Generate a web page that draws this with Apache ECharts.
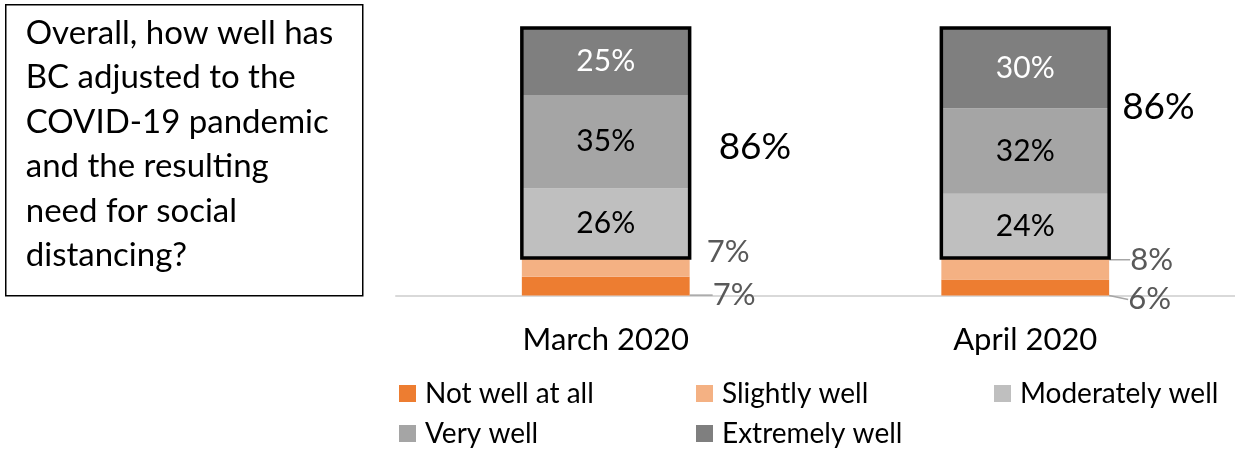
<!DOCTYPE html>
<html>
<head>
<meta charset="utf-8">
<script src="https://cdn.jsdelivr.net/npm/echarts@6/dist/echarts.min.js"></script>
<style>
  html, body { margin: 0; padding: 0; background: #fff; }
  #chart { width: 1235px; height: 452px; }
</style>
</head>
<body>
<div id="chart"></div>
<script>
// Survey waves
const periods = ['March 2020', 'April 2020'];

// Share of respondents (%) for each answer, per wave
const notWellAtAll   = [7, 6];
const slightlyWell   = [7, 8];
const moderatelyWell = [26, 24];
const veryWell       = [35, 32];
const extremelyWell  = [25, 30];

const seriesNames = ['Not well at all', 'Slightly well', 'Moderately well', 'Very well', 'Extremely well'];
const question = 'Overall, how well has\nBC adjusted to the\nCOVID-19 pandemic\nand the resulting\nneed for social\ndistancing?';

const FONT = 'Lato';
const colors = ['#ED7D31', '#F4B183', '#BFBFBF', '#A5A5A5', '#7F7F7F'];

// Offsets of the small outside labels: [distance from bar, dy, leader line shown] per wave
const notWellLabelPos  = [[23, 9, true], [19, 12, true]];
const slightlyLabelPos = [[17, -15, false], [21, -9, true]];
// Placement of the combined "well adjusted" total beside each outlined block
const totalLabelOffset = [[29, 119], [13, 79]];

// Outlined block = Moderately + Very + Extremely
const outlineData = periods.map((p, i) => {
  const base = notWellAtAll[i] + slightlyWell[i];
  const top = base + moderatelyWell[i] + veryWell[i] + extremelyWell[i];
  return [i, base, top];
});

const chart = echarts.init(document.getElementById('chart'), null, { renderer: 'canvas' });

function smallLabelSeries(name, values, color, pos) {
  return {
    name, type: 'bar', stack: 'total', barWidth: '40%',
    data: values.map((v, i) => ({ value: v, labelLine: { show: pos[i][2] } })),
    itemStyle: { color },
    label: {
      show: true, position: 'right', color: '#595959',
      fontFamily: FONT, fontSize: 31,
      formatter: p => p.value + '%'
    },
    labelLayout: p => ({ dx: pos[p.dataIndex][0] - 5, dy: pos[p.dataIndex][1] }),
    labelLine: { show: true, lineStyle: { color: '#A6A6A6', width: 1.5 } }
  };
}

function innerSeries(name, data, color, textColor) {
  return {
    name, type: 'bar', stack: 'total', barWidth: '40%',
    data,
    itemStyle: { color },
    label: {
      show: true, position: 'inside', color: textColor,
      fontFamily: FONT, fontSize: 30,
      formatter: p => p.value + '%'
    }
  };
}

const legendBase = {
  orient: 'vertical', icon: 'rect', itemWidth: 17, itemHeight: 17,
  itemGap: 10, padding: 0,
  textStyle: { fontFamily: FONT, fontSize: 28, color: '#000', lineHeight: 30, padding: [0, 0, 0, 4] }
};

chart.setOption({
  animation: false,
  textStyle: { fontFamily: FONT },
  grid: { left: 396, right: 0, top: 28, bottom: 156.5 },
  xAxis: {
    type: 'category', data: periods,
    axisLine: { lineStyle: { color: '#D9D9D9', width: 2 } },
    axisTick: { show: false },
    axisLabel: { fontFamily: FONT, fontSize: 31, color: '#000', margin: 29 }
  },
  yAxis: { type: 'value', min: 0, max: 100, show: false },
  legend: [
    Object.assign({}, legendBase, { left: 399, top: 378.5, data: [seriesNames[0], seriesNames[3]] }),
    Object.assign({}, legendBase, { left: 696, top: 378.5, data: [seriesNames[1], seriesNames[4]] }),
    Object.assign({}, legendBase, { left: 994, top: 378.5, data: [seriesNames[2]] })
  ],
  graphic: [{
    type: 'group', left: 5, top: 4,
    children: [
      { type: 'rect', shape: { x: 0, y: 0, width: 357, height: 291 },
        style: { fill: '#fff', stroke: '#000', lineWidth: 1.5 } },
      { type: 'text', x: 20, y: 6,
        style: { text: question, font: '33px ' + FONT, fill: '#000', lineHeight: 44.5 } }
    ]
  }],
  series: [
    smallLabelSeries(seriesNames[0], notWellAtAll, colors[0], notWellLabelPos),
    smallLabelSeries(seriesNames[1], slightlyWell, colors[1], slightlyLabelPos),
    innerSeries(seriesNames[2], moderatelyWell, colors[2], '#000'),
    innerSeries(seriesNames[3], veryWell, colors[3], '#000'),
    innerSeries(seriesNames[4], extremelyWell, colors[4], '#fff'),
    {
      type: 'custom', z: 10, silent: true,
      data: outlineData,
      renderItem: (params, api) => {
        const i = api.value(0);
        const pTop = api.coord([i, api.value(2)]);
        const pBase = api.coord([i, api.value(1)]);
        const w = api.size([1, 0])[0] * 0.4;
        const x0 = pTop[0] - w / 2;
        const off = totalLabelOffset[params.dataIndex];
        return {
          type: 'group',
          children: [
            { type: 'rect', shape: { x: x0, y: pTop[1], width: w, height: pBase[1] - pTop[1] },
              style: { fill: 'none', stroke: '#000', lineWidth: 3.5 } },
            { type: 'text', x: x0 + w + off[0], y: pTop[1] + off[1],
              style: { text: (api.value(2) - api.value(1)) + '%', font: '37px ' + FONT,
                       fill: '#000', verticalAlign: 'middle', align: 'left' } }
          ]
        };
      }
    }
  ]
});
</script>
</body>
</html>
